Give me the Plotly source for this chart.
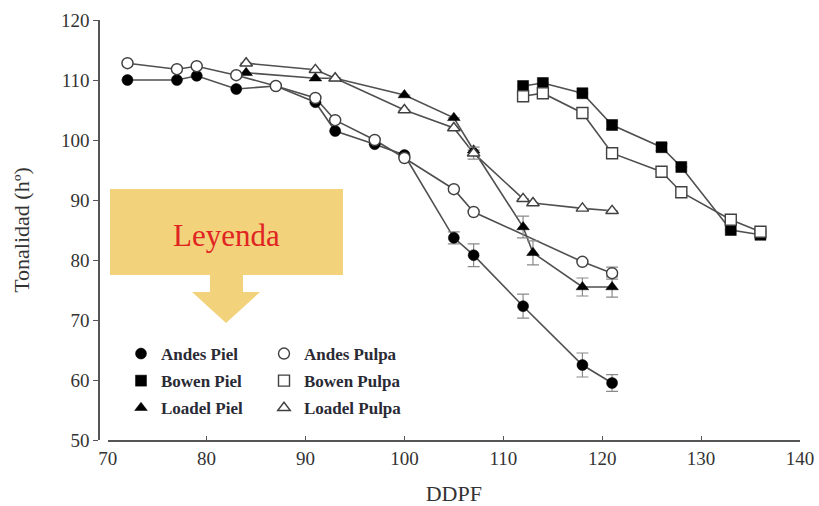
import plotly.graph_objects as go

# ---------------- data ----------------
andes_x = [72, 77, 79, 83, 87, 91, 93, 97, 100, 105, 107, 112, 118, 121]
andes_piel = [110.0, 110.0, 110.7, 108.5, 109.0, 106.3, 101.5, 99.3, 97.5, 83.7, 80.8, 72.3, 62.5, 59.5]
andes_piel_err = [0, 0, 0, 0, 0, 0, 0, 0, 0, 1.0, 1.9, 2.0, 2.0, 1.4]

andes_pulpa_x = [72, 77, 79, 83, 87, 91, 93, 97, 100, 105, 107, 118, 121]
andes_pulpa = [112.8, 111.8, 112.3, 110.8, 109.0, 107.0, 103.3, 100.0, 97.0, 91.8, 88.0, 79.7, 77.8]
andes_pulpa_err = [0, 0, 0, 0, 0, 0, 0, 0, 0, 0, 0, 0, 1.0]

bowen_x = [112, 114, 118, 121, 126, 128, 133, 136]
bowen_piel = [109.0, 109.5, 107.8, 102.5, 98.8, 95.5, 85.0, 84.2]
bowen_piel_err = [0, 0, 0, 0.6, 0.6, 0, 0, 0.5]
bowen_pulpa = [107.3, 107.8, 104.5, 97.8, 94.7, 91.3, 86.7, 84.7]
bowen_pulpa_err = [0, 0, 0, 0, 0, 0, 0, 0]

loadel_x = [84, 91, 93, 100, 105, 107, 112, 113, 118, 121]
loadel_piel = [111.2, 110.3, 110.3, 107.5, 103.7, 98.3, 85.5, 81.2, 75.5, 75.5]
loadel_piel_err = [0, 0, 0, 0, 0, 0, 1.8, 2.0, 1.5, 1.7]
loadel_pulpa = [112.8, 111.7, 110.3, 105.0, 102.0, 97.8, 90.2, 89.5, 88.6, 88.2]
loadel_pulpa_err = [0, 0, 0, 0, 0, 1.0, 0, 0, 0, 0]

x_ticks = [70, 80, 90, 100, 110, 120, 130, 140]
y_ticks = [50, 60, 70, 80, 90, 100, 110, 120]

# ---------------- style ----------------
W, H = 819, 506
ML, MR, MT, MB = 99, 19, 20, 66
PW, PH = W - ML - MR, H - MT - MB
FONT = "Liberation Serif"
LINE_C = "#505050"
EDGE_C = "#404040"
ERR_C = "#8a8a8a"
MS = 11


def px(x):
    # x in page pixels -> paper fraction
    return (x - ML) / PW


def py(y):
    return (H - MB - y) / PH


series = [
    ("Andes Piel", andes_x, andes_piel, andes_piel_err, "circle", True, "legend"),
    ("Bowen Piel", bowen_x, bowen_piel, bowen_piel_err, "square", True, "legend"),
    ("Loadel Piel", loadel_x, loadel_piel, loadel_piel_err, "triangle-up", True, "legend"),
    ("Andes Pulpa", andes_pulpa_x, andes_pulpa, andes_pulpa_err, "circle", False, "legend2"),
    ("Bowen Pulpa", bowen_x, bowen_pulpa, bowen_pulpa_err, "square", False, "legend2"),
    ("Loadel Pulpa", loadel_x, loadel_pulpa, loadel_pulpa_err, "triangle-up", False, "legend2"),
]

fig = go.Figure()

# connecting lines first (behind markers)
for name, xs, ys, err, sym, filled, lg in series:
    fig.add_trace(go.Scatter(
        x=xs, y=ys, mode="lines", showlegend=False, hoverinfo="skip",
        line=dict(color=LINE_C, width=1.6),
    ))

for name, xs, ys, err, sym, filled, lg in series:
    fig.add_trace(go.Scatter(
        x=xs, y=ys, mode="markers", name=name, legend=lg, legendgroup=name,
        error_y=dict(type="data", array=err, visible=True, color=ERR_C,
                     thickness=1.2, width=6),
        marker=dict(symbol=sym, size=MS,
                    color="black" if filled else "white",
                    line=dict(color="black" if filled else EDGE_C,
                              width=0.5 if filled else 1.4)),
    ))

# decorative yellow "Leyenda" arrow box (pixel geometry -> paper coords)
pts = [(110, 189), (343, 189), (343, 275), (243, 275), (243, 292), (260, 292),
       (226, 323), (192, 292), (210, 292), (210, 275), (110, 275)]
path = "M " + " L ".join(f"{px(a):.4f},{py(b):.4f}" for a, b in pts) + " Z"
fig.add_shape(type="path", path=path, xref="paper", yref="paper",
              fillcolor="#F2D27A", line=dict(width=0), layer="below")

fig.add_annotation(text="Leyenda", x=px(226), y=py(236), xref="paper", yref="paper",
                   xanchor="center", yanchor="middle", showarrow=False,
                   font=dict(family=FONT, size=31, color="#E02424"))

legend_common = dict(
    font=dict(family=FONT, size=17, color="#2a2a35", weight="bold"),
    bgcolor="rgba(0,0,0,0)", borderwidth=0,
    xanchor="left", yanchor="top",
    tracegroupgap=2, traceorder="grouped", itemsizing="trace",
)

AX_C = "#555555"
TXT_C = "#333333"

fig.update_layout(
    width=W, height=H,
    margin=dict(l=ML, r=MR, t=MT, b=MB),
    paper_bgcolor="white", plot_bgcolor="white",
    font=dict(family=FONT, color=TXT_C),
    legend=dict(x=px(121), y=py(336), **legend_common),
    legend2=dict(x=px(264), y=py(336), **legend_common),
    xaxis=dict(
        range=[70, 140], domain=[px(107.7), 1], anchor="y", automargin=False,
        tickvals=x_ticks, ticks="inside", ticklen=4, tickwidth=1.3, tickcolor=AX_C,
        showline=True, linecolor=AX_C, linewidth=1.5,
        showgrid=False, zeroline=False,
        tickfont=dict(family=FONT, size=19, color=TXT_C),
        title=dict(text="DDPF", font=dict(family=FONT, size=22, color=TXT_C), standoff=20),
    ),
    yaxis=dict(
        range=[50, 120], domain=[0, 1], anchor="free", position=0, automargin=False,
        tickvals=y_ticks, ticks="outside", ticklen=5, tickwidth=1.3, tickcolor=AX_C,
        showline=True, linecolor=AX_C, linewidth=1.5,
        showgrid=False, zeroline=False,
        tickfont=dict(family=FONT, size=19, color=TXT_C),
        title=dict(text="Tonalidad (hº)", font=dict(family=FONT, size=22, color=TXT_C), standoff=24),
    ),
)

# remove the default 8px page margin so the figure fills the window exactly
fig.write_html(
    "out.html",
    config={"displayModeBar": False},
    post_script="document.body.style.margin='0';document.body.style.overflow='hidden';",
)
